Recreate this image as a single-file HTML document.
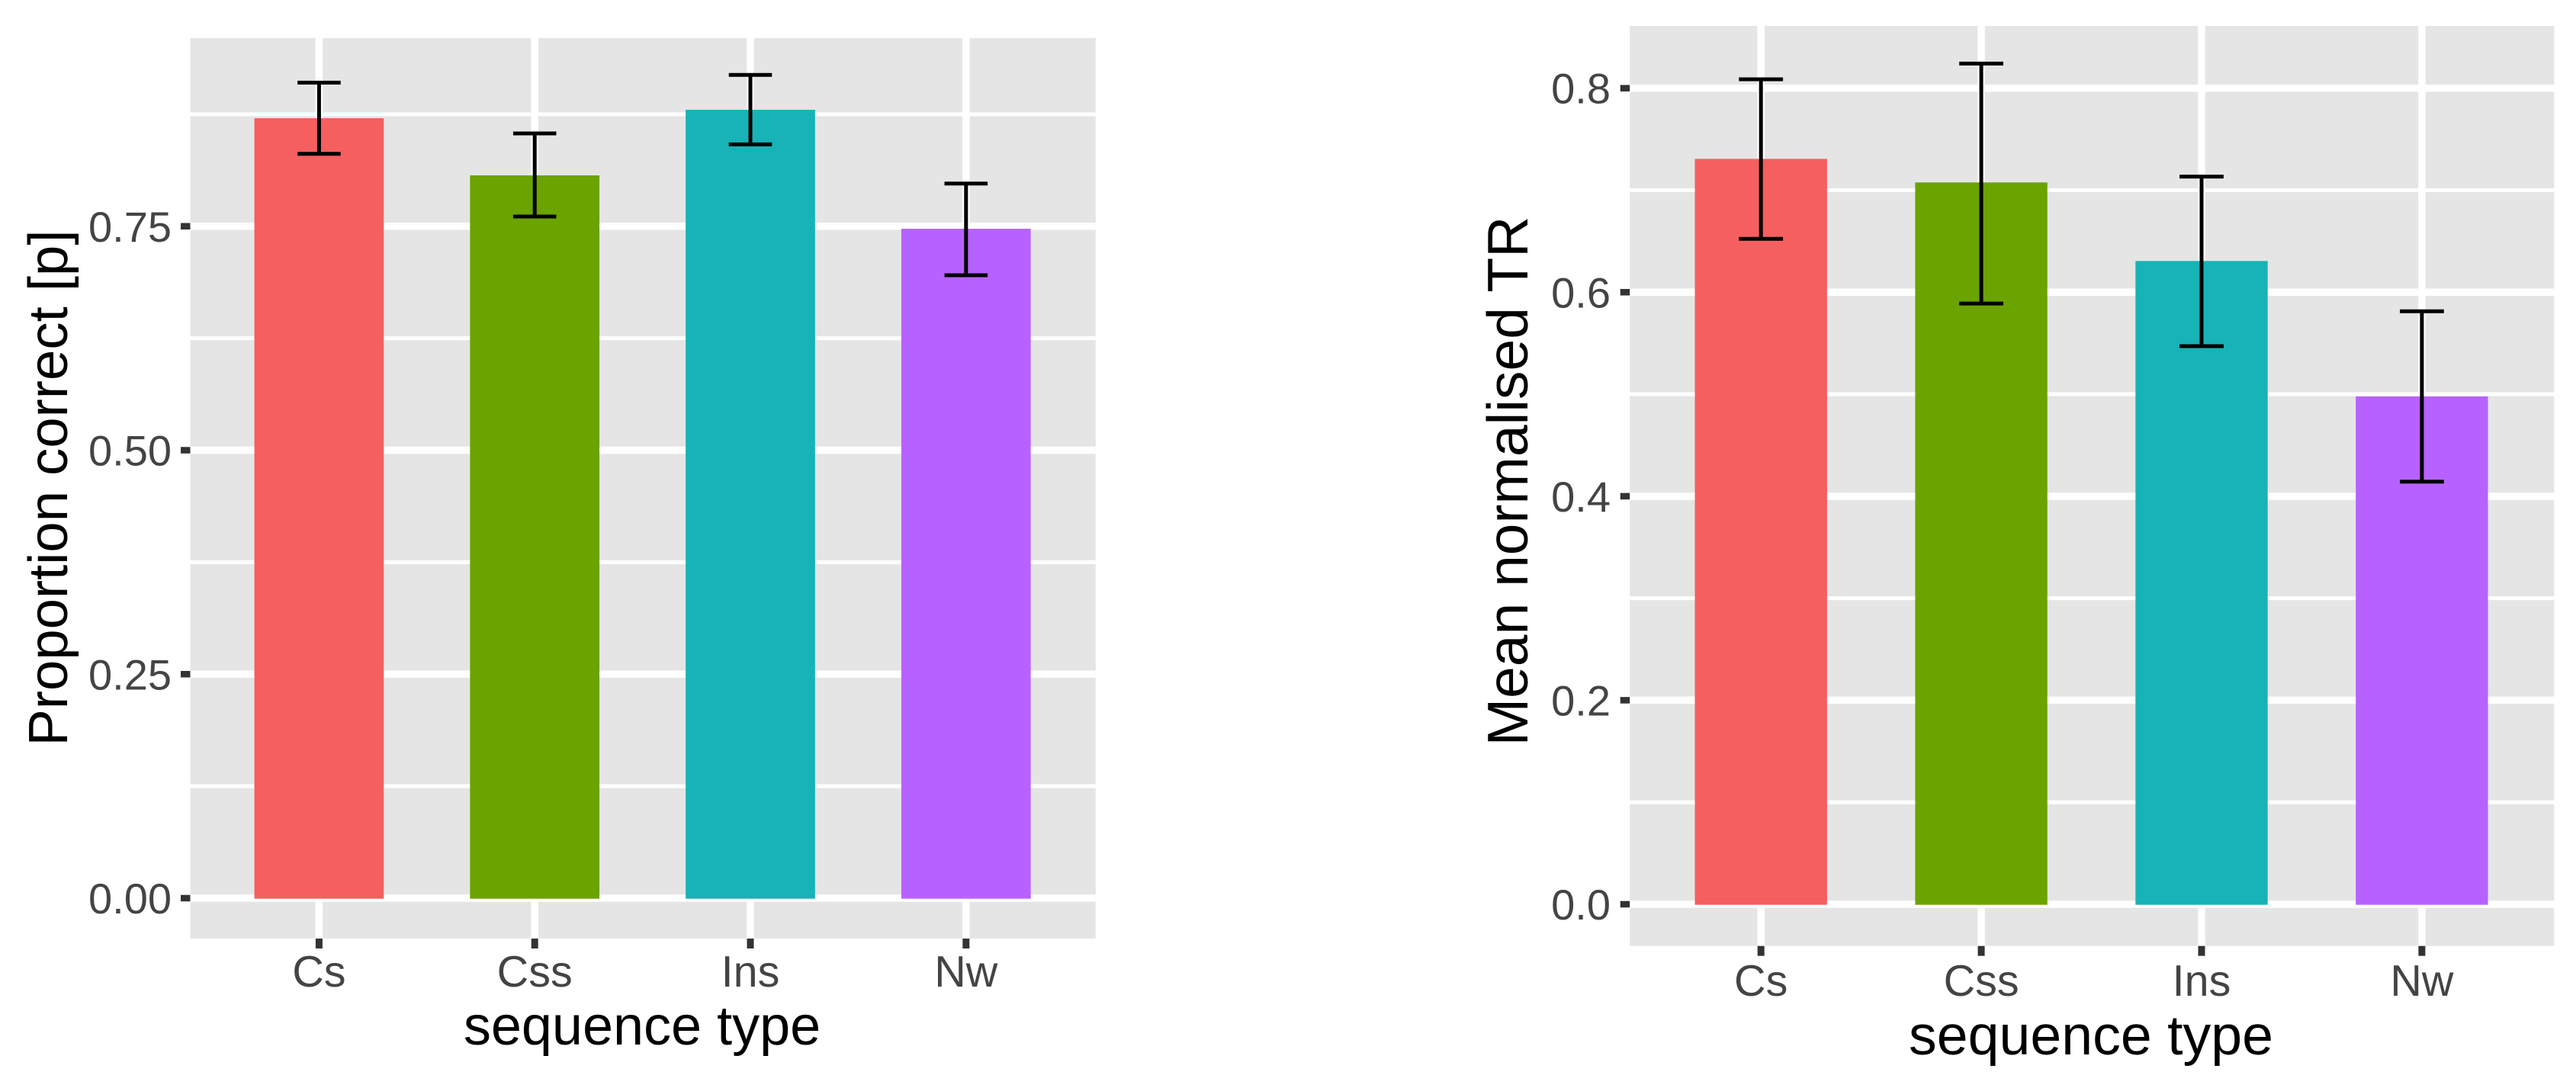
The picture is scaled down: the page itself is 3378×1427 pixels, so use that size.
<!DOCTYPE html>
<html lang="en">
<head>
<meta charset="utf-8">
<title>Proportion correct and mean normalised TR by sequence type</title>
<style>
html,body{margin:0;padding:0;background:#fff;}
svg{display:block;}
text{font-family:"Liberation Sans",Arial,Helvetica,sans-serif;}
</style>
</head>
<body>
<svg id="figure" xmlns="http://www.w3.org/2000/svg" width="3378" height="1427" viewBox="0 0 3378 1427">
<rect x="0" y="0" width="3378" height="1427" fill="#fff"/>
<text x="842" y="1370" text-anchor="middle" font-size="72" fill="#000">sequence type</text>
<text transform="translate(88,640) rotate(-90)" text-anchor="middle" font-size="72.5" fill="#000">Proportion correct [p]</text>
<text x="2742" y="1383" text-anchor="middle" font-size="73.5" fill="#000">sequence type</text>
<text transform="translate(2003,631) rotate(-90)" text-anchor="middle" font-size="75" fill="#000">Mean normalised TR</text>
</svg>
<script>
const categories = ["Cs", "Css", "Ins", "Nw"];
const barColors = ["#F55F5F", "#6BA300", "#17B3B7", "#B762FF"];

const proportionMeans = [0.8706, 0.8068, 0.8800, 0.7472];
const proportionUpper = [0.9103, 0.8536, 0.9189, 0.7977];
const proportionLower = [0.8309, 0.7609, 0.8414, 0.6953];
const proportionTicks = [0, 0.25, 0.5, 0.75];
const proportionTickLabels = ["0.00", "0.25", "0.50", "0.75"];
const proportionMinorTicks = [0.125, 0.375, 0.625, 0.875];

const trMeans = [0.7307, 0.7076, 0.6306, 0.4978];
const trUpper = [0.8087, 0.8241, 0.7133, 0.5813];
const trLower = [0.6523, 0.5889, 0.5471, 0.4143];
const trTicks = [0, 0.2, 0.4, 0.6, 0.8];
const trTickLabels = ["0.0", "0.2", "0.4", "0.6", "0.8"];
const trMinorTicks = [0.1, 0.3, 0.5, 0.7];

const SVG_NS = "http://www.w3.org/2000/svg";
const figure = document.getElementById("figure");

function make(parent, tag, attrs, content) {
  const node = document.createElementNS(SVG_NS, tag);
  for (const key in attrs) node.setAttribute(key, attrs[key]);
  if (content !== undefined) node.textContent = content;
  parent.appendChild(node);
  return node;
}

function drawChart(prefix, frame, means, upper, lower, ticks, tickLabels, minorTicks) {
  const xAt = function (i) { return frame.firstX + i * frame.step; };
  const yAt = function (v) { return frame.zeroY - v * frame.unit; };
  let el;

  const group = make(figure, "g", {});
  
  

  el = make(group, "rect", { x: frame.left, y: frame.top, width: frame.right - frame.left, height: frame.bottom - frame.top, fill: "#E5E5E5" });
  
  

  minorTicks.forEach(function (v) {
    el = make(group, "line", { x1: frame.left, x2: frame.right, y1: yAt(v), y2: yAt(v), stroke: "#fff", "stroke-width": 5 });
    
    
  });

  ticks.forEach(function (v, i) {
    el = make(group, "line", { x1: frame.left, x2: frame.right, y1: yAt(v), y2: yAt(v), stroke: "#fff", "stroke-width": 9.5 });
    
    

    el = make(group, "line", { x1: frame.left - 12.5, x2: frame.left, y1: yAt(v), y2: yAt(v), stroke: "#333", "stroke-width": 8.5 });
    
    

    el = make(group, "text", { x: frame.labelRight, y: yAt(v) + 20, "text-anchor": "end", "font-size": 56, fill: "#444" }, tickLabels[i]);
    
    
  });

  categories.forEach(function (cat, i) {
    const cx = xAt(i);

    el = make(group, "line", { x1: cx, x2: cx, y1: frame.top, y2: frame.bottom, stroke: "#fff", "stroke-width": 9.5 });
    
    

    el = make(group, "line", { x1: cx, x2: cx, y1: frame.bottom, y2: frame.bottom + 13, stroke: "#333", "stroke-width": 9 });
    
    

    el = make(group, "text", { x: cx, y: frame.xLabelY, "text-anchor": "middle", "font-size": 57.5, fill: "#444" }, cat);
    
    
  });

  categories.forEach(function (cat, i) {
    const cx = xAt(i);
    const halfBar = frame.step * 0.3;
    const halfCap = frame.step * 0.1;

    el = make(group, "rect", { x: cx - halfBar, y: yAt(means[i]), width: halfBar * 2, height: frame.zeroY - yAt(means[i]) + 0.7, fill: barColors[i] });
    
    

    el = make(group, "line", { x1: cx, x2: cx, y1: yAt(upper[i]), y2: yAt(lower[i]), stroke: "#000", "stroke-width": 5 });
    
    

    el = make(group, "line", { x1: cx - halfCap, x2: cx + halfCap, y1: yAt(upper[i]), y2: yAt(upper[i]), stroke: "#000", "stroke-width": 5 });
    
    

    el = make(group, "line", { x1: cx - halfCap, x2: cx + halfCap, y1: yAt(lower[i]), y2: yAt(lower[i]), stroke: "#000", "stroke-width": 5 });
    
    
  });
}

drawChart("proportion",
  { left: 249.5, right: 1436.7, top: 50, bottom: 1231, firstX: 418.4, step: 282.8, zeroY: 1178, unit: 1175, labelRight: 225, xLabelY: 1294 },
  proportionMeans, proportionUpper, proportionLower, proportionTicks, proportionTickLabels, proportionMinorTicks);

drawChart("tr",
  { left: 2137.2, right: 3349.4, top: 34, bottom: 1240.7, firstX: 2309.2, step: 288.9, zeroY: 1186, unit: 1337.9, labelRight: 2112, xLabelY: 1306 },
  trMeans, trUpper, trLower, trTicks, trTickLabels, trMinorTicks);

/* keep axis titles above the panels */
Array.from(figure.querySelectorAll(":scope > text")).forEach(function (t) { figure.appendChild(t); });
</script>
</body>
</html>
